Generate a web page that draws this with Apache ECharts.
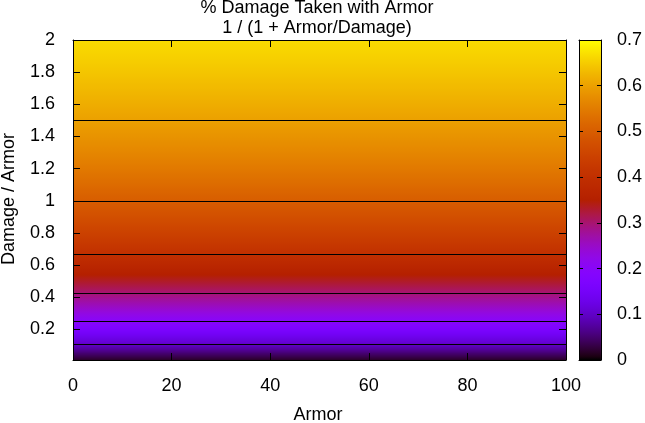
<!DOCTYPE html>
<html><head><meta charset="utf-8">
<script src="https://cdn.jsdelivr.net/npm/echarts@6/dist/echarts.min.js"></script>
<style>html,body{margin:0;padding:0;background:#fff}#c{width:645px;height:423px}</style>
</head><body><div id="c"></div>
<script>
// ---- data ----
const titleLines = ['% Damage Taken with Armor', '1 / (1 + Armor/Damage)'];
const xAxisName = 'Armor';
const yAxisName = 'Damage / Armor';
const armorRange = [0, 100];
const ratioRange = [0.01, 2];
// rows of the surface (Damage/Armor) and the % damage taken read at each row
const ratioRows =   [0.01, 0.025, 0.05, 0.075, 0.1, 0.125, 0.15, 0.175, 0.2, 0.25, 0.3, 0.35, 0.4, 0.45, 0.5, 0.55, 0.6, 0.65, 0.7, 0.75, 0.8, 0.85, 0.9, 0.95, 1.0, 1.1, 1.2, 1.3, 1.4, 1.5, 1.6, 1.7, 1.8, 1.9, 2.0];
const damageTaken = [0.018, 0.028, 0.0476, 0.0698, 0.0909, 0.1111, 0.1304, 0.1489, 0.1667, 0.2, 0.2308, 0.2593, 0.2857, 0.3103, 0.3333, 0.3548, 0.375, 0.3939, 0.4118, 0.4286, 0.4444, 0.4595, 0.4737, 0.4872, 0.5, 0.5238, 0.5455, 0.5652, 0.5833, 0.6, 0.6154, 0.6296, 0.6429, 0.6552, 0.6667];
// contour lines
const contourLevel = [0.1, 0.2, 0.3, 0.4, 0.5, 0.6];
const contourRatio = [0.111, 0.25, 0.429, 0.667, 1.0, 1.5];
// ticks
const xTicks = [0, 20, 40, 60, 80, 100];
const yTicks = [0.2, 0.4, 0.6, 0.8, 1, 1.2, 1.4, 1.6, 1.8, 2];
const cbRange = [0, 0.7];
const cbStep = 0.1;

// ---- style / palette (gnuplot rgbformulae 7,5,15) ----
function palette(t){
  t = Math.max(0, Math.min(1, t));
  const r = Math.sqrt(t), g = t*t*t, b = Math.max(0, Math.sin(2*Math.PI*t));
  return 'rgb(' + Math.round(r*255) + ',' + Math.round(g*255) + ',' + Math.round(b*255) + ')';
}
function colorOf(v){ return palette((v - cbRange[0]) / (cbRange[1] - cbRange[0])); }
// gradient for one row: colour stops shaded between the row's two edge values
function rowGradient(vLow, vHigh){
  const stops = [], n = 8;
  for (let k = 0; k <= n; k++) {
    const f = k / n;               // 0 = top edge
    stops.push({offset: f, color: colorOf(vHigh + (vLow - vHigh) * f)});
  }
  return new echarts.graphic.LinearGradient(0, 0, 0, 1, stops);
}

const FONT = 'Liberation Sans, Arial, sans-serif';
const FS = 18;

const heatData = [];
for (let i = 0; i < ratioRows.length - 1; i++) {
  heatData.push([armorRange[0], armorRange[1], ratioRows[i], ratioRows[i+1], damageTaken[i], damageTaken[i+1]]);
}
const contourData = contourRatio.map((r, i) => [armorRange[0], armorRange[1], r, contourLevel[i]]);

const cbStops = [];
for (let k = 0; k <= 96; k++) cbStops.push({offset: k/96, color: palette(1 - k/96)});

const chart = echarts.init(document.getElementById('c'), null, {renderer: 'canvas'});
const tickStyle = {lineStyle: {color: '#000', width: 1}};
const axisLineStyle = {show: true, onZero: false, lineStyle: {color: '#000', width: 1}};
const lab = {color: '#000', fontFamily: FONT, fontSize: FS};

chart.setOption({
  animation: false,
  backgroundColor: '#fff',
  grid: [
    {left: 73, top: 40, width: 493, height: 320, containLabel: false},
    {left: 579, top: 40, width: 24, height: 320, containLabel: false}
  ],
  xAxis: [
    {gridIndex: 0, type: 'value', min: armorRange[0], max: armorRange[1], z: 10, position: 'bottom',
     axisLine: axisLineStyle, splitLine: {show: false},
     axisTick: Object.assign({inside: true, length: 7, customValues: xTicks}, tickStyle),
     axisLabel: Object.assign({margin: 17, customValues: xTicks}, lab)},
    {gridIndex: 0, type: 'value', min: armorRange[0], max: armorRange[1], z: 10, position: 'top',
     axisLine: axisLineStyle, splitLine: {show: false},
     axisTick: Object.assign({inside: true, length: 7, customValues: xTicks}, tickStyle),
     axisLabel: {show: false}},
    {gridIndex: 1, type: 'value', min: 0, max: 1, z: 10, position: 'bottom',
     axisLine: axisLineStyle, axisTick: {show: false}, axisLabel: {show: false}, splitLine: {show: false}},
    {gridIndex: 1, type: 'value', min: 0, max: 1, z: 10, position: 'top',
     axisLine: axisLineStyle, axisTick: {show: false}, axisLabel: {show: false}, splitLine: {show: false}}
  ],
  yAxis: [
    {gridIndex: 0, type: 'value', min: ratioRange[0], max: ratioRange[1], z: 10, position: 'left',
     axisLine: axisLineStyle, splitLine: {show: false},
     axisTick: Object.assign({inside: true, length: 7, customValues: yTicks}, tickStyle),
     axisLabel: Object.assign({margin: 18, customValues: yTicks}, lab)},
    {gridIndex: 0, type: 'value', min: ratioRange[0], max: ratioRange[1], z: 10, position: 'right',
     axisLine: axisLineStyle, splitLine: {show: false},
     axisTick: Object.assign({inside: true, length: 7, customValues: yTicks}, tickStyle),
     axisLabel: {show: false}},
    {gridIndex: 1, type: 'value', min: cbRange[0], max: cbRange[1], interval: cbStep, z: 10, position: 'right',
     axisLine: axisLineStyle, splitLine: {show: false},
     axisTick: Object.assign({inside: true, length: 4}, tickStyle),
     axisLabel: Object.assign({margin: 16, formatter: v => String(+v.toFixed(2))}, lab)},
    {gridIndex: 1, type: 'value', min: cbRange[0], max: cbRange[1], interval: cbStep, z: 10, position: 'left',
     axisLine: axisLineStyle, splitLine: {show: false},
     axisTick: Object.assign({inside: true, length: 4}, tickStyle),
     axisLabel: {show: false}}
  ],
  graphic: [
    {type: 'text', x: 317, y: 8, style: {text: titleLines[0], font: FS + 'px ' + FONT, fill: '#000', align: 'center', verticalAlign: 'middle'}},
    {type: 'text', x: 317, y: 28.5, style: {text: titleLines[1], font: FS + 'px ' + FONT, fill: '#000', align: 'center', verticalAlign: 'middle'}},
    {type: 'text', x: 318, y: 415, style: {text: xAxisName, font: FS + 'px ' + FONT, fill: '#000', align: 'center', verticalAlign: 'middle'}},
    {type: 'text', x: 9, y: 199, rotation: Math.PI/2, style: {text: yAxisName, font: FS + 'px ' + FONT, fill: '#000', align: 'center', verticalAlign: 'middle'}}
  ],
  series: [
    {type: 'custom', xAxisIndex: 0, yAxisIndex: 0, data: heatData, encode: {x: [0, 1], y: [2, 3]}, z: 2,
     renderItem: function(params, api){
       const p0 = api.coord([api.value(0), api.value(3)]);
       const p1 = api.coord([api.value(1), api.value(2)]);
       const yTop = Math.round(p0[1]), yBot = Math.round(p1[1]);
       return {type: 'rect', shape: {x: Math.round(p0[0]), y: yTop, width: Math.round(p1[0]) - Math.round(p0[0]), height: yBot - yTop},
         style: {fill: rowGradient(api.value(4), api.value(5))}};
     }},
    {type: 'custom', xAxisIndex: 0, yAxisIndex: 0, data: contourData, encode: {x: [0, 1], y: 2}, z: 3,
     renderItem: function(params, api){
       const a = api.coord([api.value(0), api.value(2)]);
       const b = api.coord([api.value(1), api.value(2)]);
       return {type: 'line', shape: {x1: a[0], y1: Math.round(a[1]) + 0.5, x2: b[0], y2: Math.round(b[1]) + 0.5},
         style: {stroke: '#000', lineWidth: 1}};
     }},
    {type: 'custom', xAxisIndex: 2, yAxisIndex: 2, data: [[0, 1, cbRange[0], cbRange[1]]], encode: {x: [0, 1], y: [2, 3]}, z: 2,
     renderItem: function(params, api){
       const p0 = api.coord([api.value(0), api.value(3)]);
       const p1 = api.coord([api.value(1), api.value(2)]);
       return {type: 'rect', shape: {x: p0[0], y: p0[1], width: p1[0] - p0[0], height: p1[1] - p0[1]},
         style: {fill: new echarts.graphic.LinearGradient(0, 0, 0, 1, cbStops)}};
     }}
  ]
});
</script>
</body></html>
